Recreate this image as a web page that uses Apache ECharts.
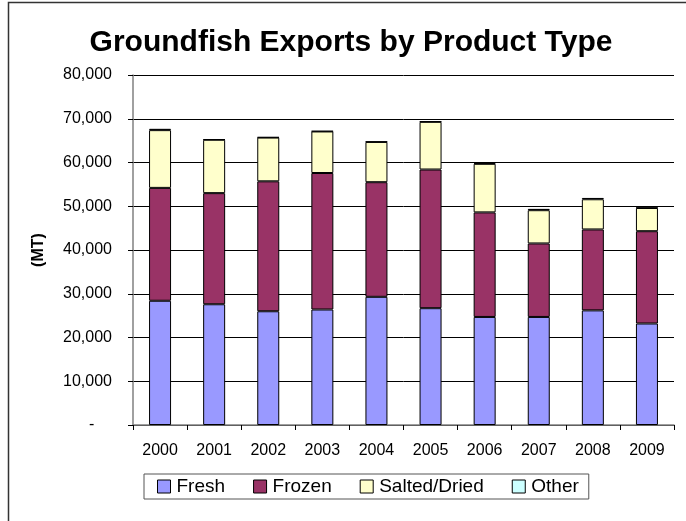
<!DOCTYPE html>
<html>
<head>
<meta charset="utf-8">
<script src="https://cdn.jsdelivr.net/npm/echarts@6/dist/echarts.min.js"></script>
<style>
  html, body { margin: 0; padding: 0; background: #fff; }
  #chart { width: 686px; height: 521px; }
</style>
</head>
<body>
<div id="chart"></div>
<script>
// values, metric tonnes
var years = ['2000', '2001', '2002', '2003', '2004', '2005', '2006', '2007', '2008', '2009'];
var fresh = [28400, 27600, 26000, 26400, 29300, 26700, 24700, 24700, 26200, 23200];
var frozen = [25800, 25400, 29700, 31200, 26200, 31700, 23900, 16800, 18500, 21100];
var salted = [13200, 12200, 10000, 9500, 9200, 10900, 11100, 7600, 6900, 5300];
var other = [300, 100, 100, 100, 100, 100, 200, 300, 300, 100];
var yTicks = [0, 10000, 20000, 30000, 40000, 50000, 60000, 70000, 80000];

var chart = echarts.init(document.getElementById('chart'));

function barSeries(name, data, color) {
  return {
    name: name,
    type: 'bar',
    stack: 'total',
    barWidth: 22,
    data: data,
    itemStyle: { color: color, borderColor: '#000', borderWidth: 1 }
  };
}

var option = {
  animation: false,
  textStyle: { fontFamily: 'Liberation Sans, Arial, sans-serif' },
  graphic: [{
    type: 'rect',
    shape: { x: 8.5, y: 2.5, width: 700, height: 540 },
    style: { fill: 'none', stroke: '#333', lineWidth: 1.5 },
    silent: true
  }],
  title: {
    text: 'Groundfish Exports by Product Type',
    left: 346,
    top: 23,
    textAlign: 'center',
    textStyle: { fontSize: 30, fontWeight: 'bold', color: '#000' }
  },
  legend: {
    left: 144,
    top: 474,
    padding: [3, 10, 3, 13],
    itemWidth: 13,
    itemHeight: 13,
    itemGap: 28,
    borderColor: '#555',
    borderWidth: 1,
    borderRadius: 0,
    icon: 'rect',
    textStyle: { fontSize: 19, color: '#000', padding: [0, 0, 0, 1] },
    itemStyle: { borderColor: '#000', borderWidth: 1 },
    data: ['Fresh', 'Frozen', 'Salted/Dried', 'Other']
  },
  grid: { left: 133, top: 75, width: 541, height: 350, containLabel: false },
  xAxis: {
    type: 'category',
    data: years,
    axisLine: { lineStyle: { color: '#808080', width: 1.5 } },
    axisTick: { show: true, length: 5, lineStyle: { color: '#000' } },
    axisLabel: { fontSize: 16, color: '#000', margin: 18 }
  },
  yAxis: {
    type: 'value',
    min: 0,
    max: 80000,
    interval: 10000,
    name: '(MT)',
    nameLocation: 'middle',
    nameGap: 86,
    nameTextStyle: { fontSize: 16, fontWeight: 'bold', color: '#000' },
    axisLine: { show: true, lineStyle: { color: '#808080', width: 1.5 } },
    axisTick: { show: true, length: 5, lineStyle: { color: '#000' } },
    axisLabel: {
      fontSize: 16,
      color: '#000',
      margin: 21,
      formatter: function (v) {
        if (yTicks.indexOf(v) < 0) return '';
        return v === 0 ? '-    ' : v.toLocaleString('en-US');
      }
    },
    splitLine: { lineStyle: { color: '#000', width: 1 } }
  },
  series: [
    barSeries('Fresh', fresh, '#9999FF'),
    barSeries('Frozen', frozen, '#993366'),
    barSeries('Salted/Dried', salted, '#FFFFCC'),
    barSeries('Other', other, '#CCFFFF')
  ]
};

chart.setOption(option);
</script>
</body>
</html>
